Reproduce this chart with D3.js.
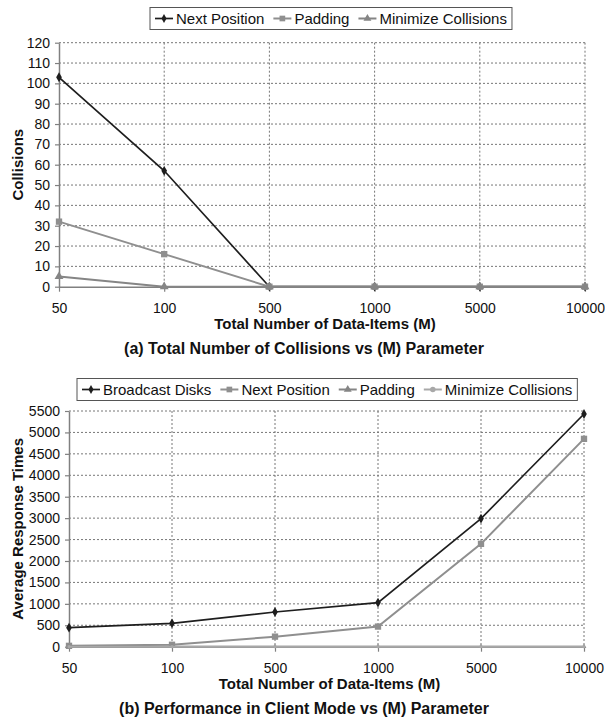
<!DOCTYPE html>
<html>
<head>
<meta charset="utf-8">
<script src="https://cdn.jsdelivr.net/npm/d3@7"></script>
<style>
  body { margin: 0; background: #fff; }
  svg { display: block; font-family: "Liberation Sans", Arial, sans-serif; }
</style>
</head>
<body>
<svg id="chart" width="605" height="723"></svg>
<script>
// categories on the x axis (same for both panels)
const mValues = ['50', '100', '500', '1000', '5000', '10000']

// panel (a): collisions
const collisionSeries = ['Next Position', 'Padding', 'Minimize Collisions']
const nextPosCollisions = [103, 57, 0, 0, 0, 0]
const paddingCollisions = [32, 16, 0, 0, 0, 0]
const minimizeCollisions = [5, 0, 0, 0, 0, 0]
const collisionTicks = [0, 10, 20, 30, 40, 50, 60, 70, 80, 90, 100, 110, 120]

// panel (b): response times
const responseSeries = ['Broadcast Disks', 'Next Position', 'Padding', 'Minimize Collisions']
const broadcastTimes = [445, 545, 810, 1030, 2990, 5430]
const nextPosTimes = [20, 45, 235, 470, 2400, 4850]
const paddingTimes = [0, 0, 0, 0, 0, 0]
const minimizeTimes = [0, 0, 0, 0, 0, 0]
const responseTicks = [0, 500, 1000, 1500, 2000, 2500, 3000, 3500, 4000, 4500, 5000, 5500]

const svg = d3.select('#chart')

// look of each series: colour + marker shape
const styles = {
  black:   { color: '#1e1e1e', width: 1.7, shape: d3.symbolDiamond, size: 28 },
  square:  { color: '#8f8f8f', width: 2, shape: d3.symbolSquare, size: 40 },
  triangle:{ color: '#858585', width: 2, shape: d3.symbolTriangle, size: 34 },
  circle:  { color: '#a8a8a8', width: 2, shape: d3.symbolCircle, size: 30 }
}

function drawPanel(cfg) {
  const g = svg.append('g')
  const x = d3.scalePoint().domain(mValues).range([cfg.left, cfg.right])
  const y = d3.scaleLinear().domain([0, cfg.ticks[cfg.ticks.length - 1]]).range([cfg.bottom, cfg.top])

  // dotted grid
  g.append('g').selectAll('line.h')
    .data(cfg.ticks.filter(t => t > 0))
    .join('line')
    .attr('x1', cfg.left).attr('x2', cfg.right)
    .attr('y1', d => y(d)).attr('y2', d => y(d))
    .attr('stroke', '#777').attr('stroke-width', 1).attr('stroke-dasharray', '2,2')
  g.append('g').selectAll('line.v')
    .data(mValues.slice(1))
    .join('line')
    .attr('x1', d => x(d)).attr('x2', d => x(d))
    .attr('y1', cfg.top).attr('y2', cfg.bottom)
    .attr('stroke', '#777').attr('stroke-width', 1).attr('stroke-dasharray', '2,2')

  // axes
  const yAxis = g.append('g')
    .attr('transform', `translate(${cfg.left},0)`)
    .call(d3.axisLeft(y).tickValues(cfg.ticks).tickFormat(d3.format('d'))
      .tickSize(4).tickPadding(5).tickSizeOuter(0))
  const xAxis = g.append('g')
    .attr('transform', `translate(0,${cfg.bottom})`)
    .call(d3.axisBottom(x).tickSize(5).tickPadding(11).tickSizeOuter(0))
  for (const ax of [yAxis, xAxis]) {
    ax.select('.domain').attr('stroke', '#808080').attr('stroke-width', 1.5)
    ax.selectAll('.tick line').attr('stroke', '#808080').attr('stroke-width', 1.2)
    ax.selectAll('.tick text').attr('fill', '#111').style('font-size', '14px')
      .style('font-family', '"Liberation Sans", Arial, sans-serif')
  }

  // series lines + markers
  const line = d3.line().x((d, i) => x(mValues[i])).y(d => y(d))
  cfg.series.forEach(s => {
    const st = styles[s.style]
    g.append('path').datum(s.values)
      .attr('d', line).attr('fill', 'none')
      .attr('stroke', st.color).attr('stroke-width', st.width)
    g.append('g').selectAll('path')
      .data(s.values)
      .join('path')
      .attr('d', d3.symbol().type(st.shape).size(s.markerSize || st.size))
      .attr('transform', (d, i) => `translate(${x(mValues[i])},${y(d)})`)
      .attr('fill', st.color)
  })

  // axis titles
  g.append('text')
    .attr('x', (cfg.left + cfg.right) / 2 + 3).attr('y', cfg.bottom + 42)
    .attr('text-anchor', 'middle').attr('font-weight', 'bold').attr('font-size', 15)
    .attr('fill', '#111')
    .text('Total Number of Data-Items (M)')
  g.append('text')
    .attr('transform', `translate(23,${(cfg.top + cfg.bottom) / 2}) rotate(-90)`)
    .attr('text-anchor', 'middle').attr('font-weight', 'bold').attr('font-size', 15)
    .attr('fill', '#111')
    .text(cfg.yTitle)
  g.append('text')
    .attr('x', 304).attr('y', cfg.bottom + 67)
    .attr('text-anchor', 'middle').attr('font-weight', 'bold').attr('font-size', 16)
    .attr('fill', '#111')
    .text(cfg.caption)

  // legend box
  const leg = g.append('g')
  const box = leg.append('rect')
    .attr('x', cfg.legendX).attr('y', cfg.legendY)
    .attr('height', 22).attr('fill', '#fff')
    .attr('stroke', '#555').attr('stroke-width', 1)
  let cx = cfg.legendX + 5
  cfg.series.forEach(s => {
    const st = styles[s.style]
    const my = cfg.legendY + 11
    leg.append('line')
      .attr('x1', cx).attr('x2', cx + 18).attr('y1', my).attr('y2', my)
      .attr('stroke', st.color).attr('stroke-width', st.width)
    leg.append('path')
      .attr('d', d3.symbol().type(st.shape).size(st.size * 0.8))
      .attr('transform', `translate(${cx + 9},${my})`)
      .attr('fill', st.color)
    const t = leg.append('text')
      .attr('x', cx + 21).attr('y', cfg.legendY + 16.5)
      .attr('font-size', 15).attr('fill', '#111')
      .text(s.name)
    cx += 21 + t.node().getComputedTextLength() + 9
  })
  box.attr('width', cx - 9 + 5 - cfg.legendX)
}

drawPanel({
  left: 59, right: 585, top: 42.7, bottom: 286.7,
  ticks: collisionTicks,
  yTitle: 'Collisions',
  caption: '(a) Total Number of Collisions vs (M) Parameter',
  legendX: 150, legendY: 7.5,
  series: [
    { name: collisionSeries[0], values: nextPosCollisions, style: 'black' },
    { name: collisionSeries[1], values: paddingCollisions, style: 'square' },
    { name: collisionSeries[2], values: minimizeCollisions, style: 'triangle' }
  ]
})

drawPanel({
  left: 69, right: 584, top: 411, bottom: 646.7,
  ticks: responseTicks,
  yTitle: 'Average Response Times',
  caption: '(b) Performance in Client Mode vs (M) Parameter',
  legendX: 77, legendY: 378.5,
  series: [
    { name: responseSeries[0], values: broadcastTimes, style: 'black' },
    { name: responseSeries[1], values: nextPosTimes, style: 'square' },
    { name: responseSeries[2], values: paddingTimes, style: 'triangle', markerSize: 10 },
    { name: responseSeries[3], values: minimizeTimes, style: 'circle', markerSize: 8 }
  ]
})
</script>
</body>
</html>
